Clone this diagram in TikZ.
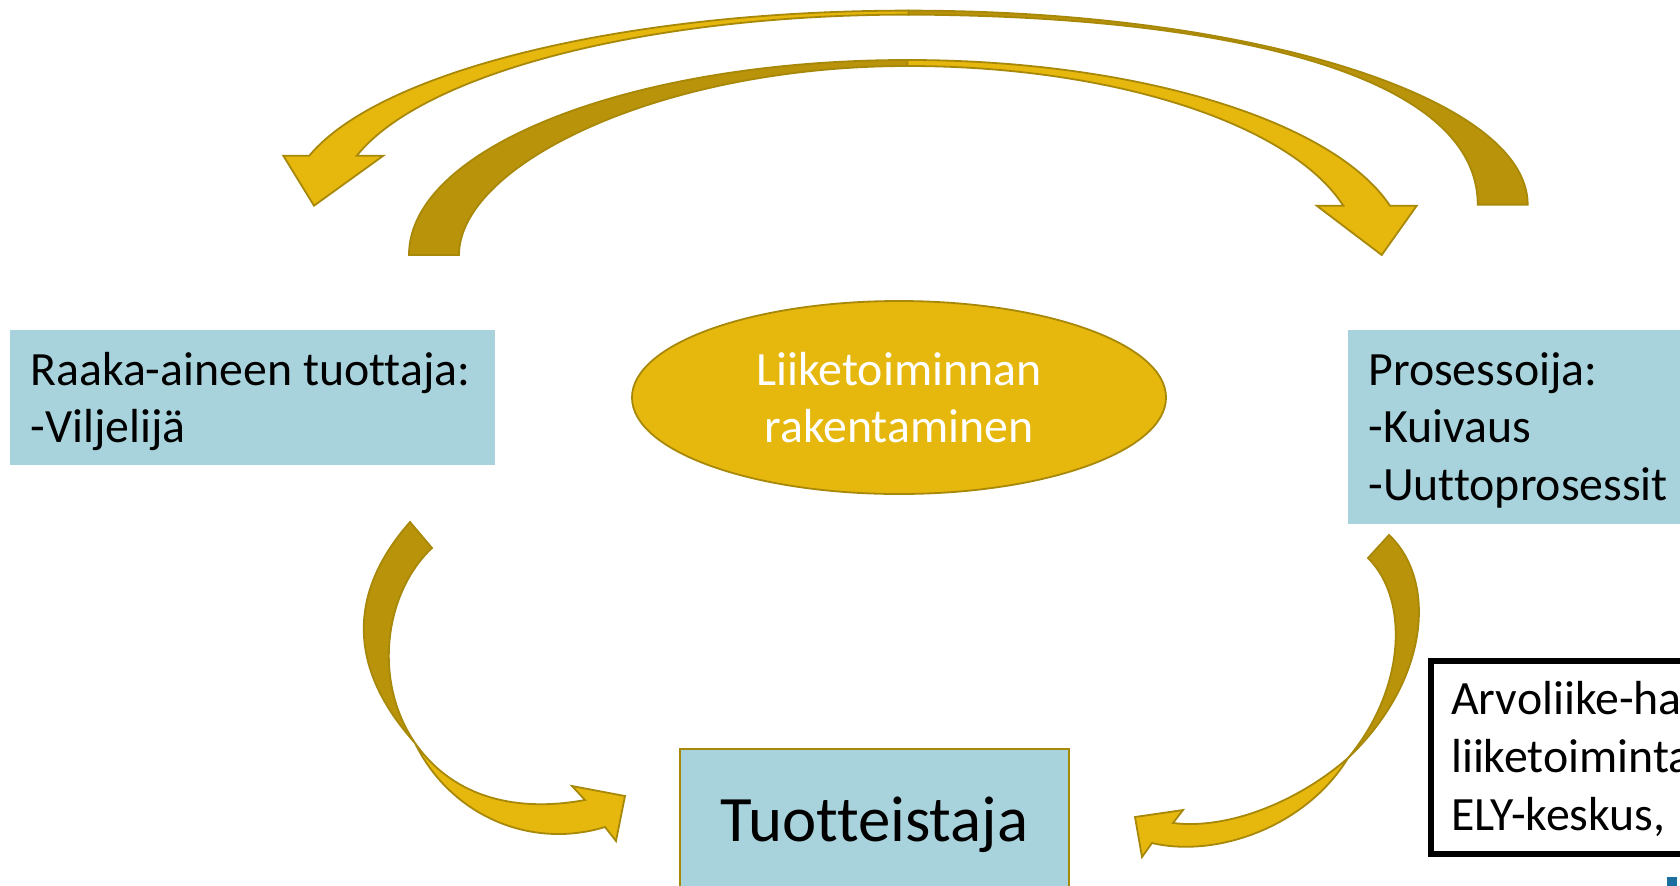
\documentclass[tikz,border=0pt]{standalone}
\usepackage{fontspec}
\setmainfont[Ligatures={NoCommon}]{Carlito}
\usetikzlibrary{calc,shapes.geometric}
\definecolor{goldL}{RGB}{230,184,14}
\definecolor{goldD}{RGB}{185,147,10}
\definecolor{goldE}{RGB}{168,136,8}
\definecolor{boxblue}{RGB}{168,211,220}
\definecolor{markblue}{RGB}{27,111,160}
\begin{document}
\begin{tikzpicture}[x=0.5pt,y=-0.5pt,
  lightpart/.style={fill=goldL,draw=goldE,line width=0.9pt},
  darkpart/.style={fill=goldD,draw=goldE,line width=0.9pt},
  bluebox/.style={fill=boxblue,inner sep=0pt,anchor=north west},
  txt/.style={font=\fontsize{23.9}{29}\selectfont,inner sep=0pt,anchor=base west},
]
\useasboundingbox (0,0) rectangle (1680,885);
\fill[white] (0,0) rectangle (1680,885);

% ---- top outer arrow (right -> left) ----
\filldraw[darkpart] (908.5,10.6) arc[start angle=270,end angle=360,x radius=619.2,y radius=194]
  -- (1477.7,204.6) .. controls (1477.7,75) and (1230,16) .. (908.5,14.6) -- cycle;
\filldraw[lightpart] (309.3,155.7) arc[start angle=194.6,end angle=270,x radius=619.2,y radius=194]
  -- (908.5,14.6) arc[start angle=270,end angle=194.92,x radius=571,y radius=190]
  -- (383.3,155.7) -- (314,205.7) -- (283.3,155.7) -- cycle;

% ---- top inner arrow (left -> right) ----
\filldraw[darkpart] (409,255) arc[start angle=180,end angle=270,x radius=498.6,y radius=195]
  -- (907.6,66) .. controls (660,66) and (459,165) .. (459,255) -- cycle;
\filldraw[lightpart] (907.6,60) arc[start angle=270,end angle=345.35,x radius=498.6,y radius=195]
  -- (1416.7,205.7) -- (1381.7,255) -- (1316.7,205.7) -- (1343.3,205.7)
  arc[start angle=344.88,end angle=270,x radius=451.4,y radius=189] -- cycle;

% ---- lower left arrow ----
\filldraw[darkpart] (410,522) -- (432,548) .. controls (385,592) and (372,680) .. (415,743)
  .. controls (345,665) and (350,590) .. (410,522) -- cycle;
\filldraw[lightpart] (415,743) .. controls (455,800) and (520,812) .. (585,800)
  -- (572,786) -- (625,796) -- (616,841) -- (605,827)
  .. controls (530,850) and (450,815) .. (415,743) -- cycle;

% ---- lower right arrow ----
\filldraw[darkpart] (1389,535) .. controls (1437,580) and (1430,680) .. (1348,758)
  .. controls (1405,690) and (1410,600) .. (1368,558) -- cycle;
\filldraw[lightpart] (1348,758) .. controls (1300,800) and (1230,830) .. (1173,823)
  -- (1183,810) -- (1135,817) -- (1142,857) -- (1152,843)
  .. controls (1215,858) and (1305,828) .. (1348,758) -- cycle;

% ---- boxes ----
\node[bluebox,minimum width=242.7pt,minimum height=67.5pt] (prod) at (9.6,330) {};
\node[txt] (prod1) at (30,385) {Raaka-aineen tuottaja:};
\node[txt] (prod2) at (30,442.7) {-Viljelijä};

\node[ellipse,fill=goldL,draw=goldE,line width=0.9pt,minimum width=267pt,minimum height=96.5pt,inner sep=0pt] (biz) at (899,397.5) {};
\node[txt,anchor=base,text=white] (biz1) at (899,385) {Liiketoiminnan};
\node[txt,anchor=base,text=white] (biz2) at (899,442.7) {rakentaminen};

\node[bluebox,minimum width=200pt,minimum height=97pt] (proc) at (1348,330) {};
\node[txt] (proc1) at (1368,385) {Prosessoija:};
\node[txt] (proc2) at (1368,442.7) {-Kuivaus};
\node[txt] (proc3) at (1368,500.4) {-Uuttoprosessit};

\node[fill=boxblue,draw=goldE,line width=1pt,minimum width=194.5pt,minimum height=72pt,inner sep=0pt] (prodz) at (874.5,821) {};
\node[inner sep=0pt,anchor=base,font=\fontsize{32.4}{40}\selectfont] (prodzt) at (874.5,841) {Tuotteistaja};

\draw[line width=3pt,fill=white] (1431.3,661.3) rectangle (1720,853.7);
\node[txt] (arv1) at (1450.7,714.3) {Arvoliike-ha};
\node[txt] (arv2) at (1450.7,772) {liiketoiminta};
\node[txt] (arv3) at (1450.7,830) {ELY-keskus,};

\fill[markblue] (1667,877) rectangle (1677,890);
\end{tikzpicture}
\end{document}
